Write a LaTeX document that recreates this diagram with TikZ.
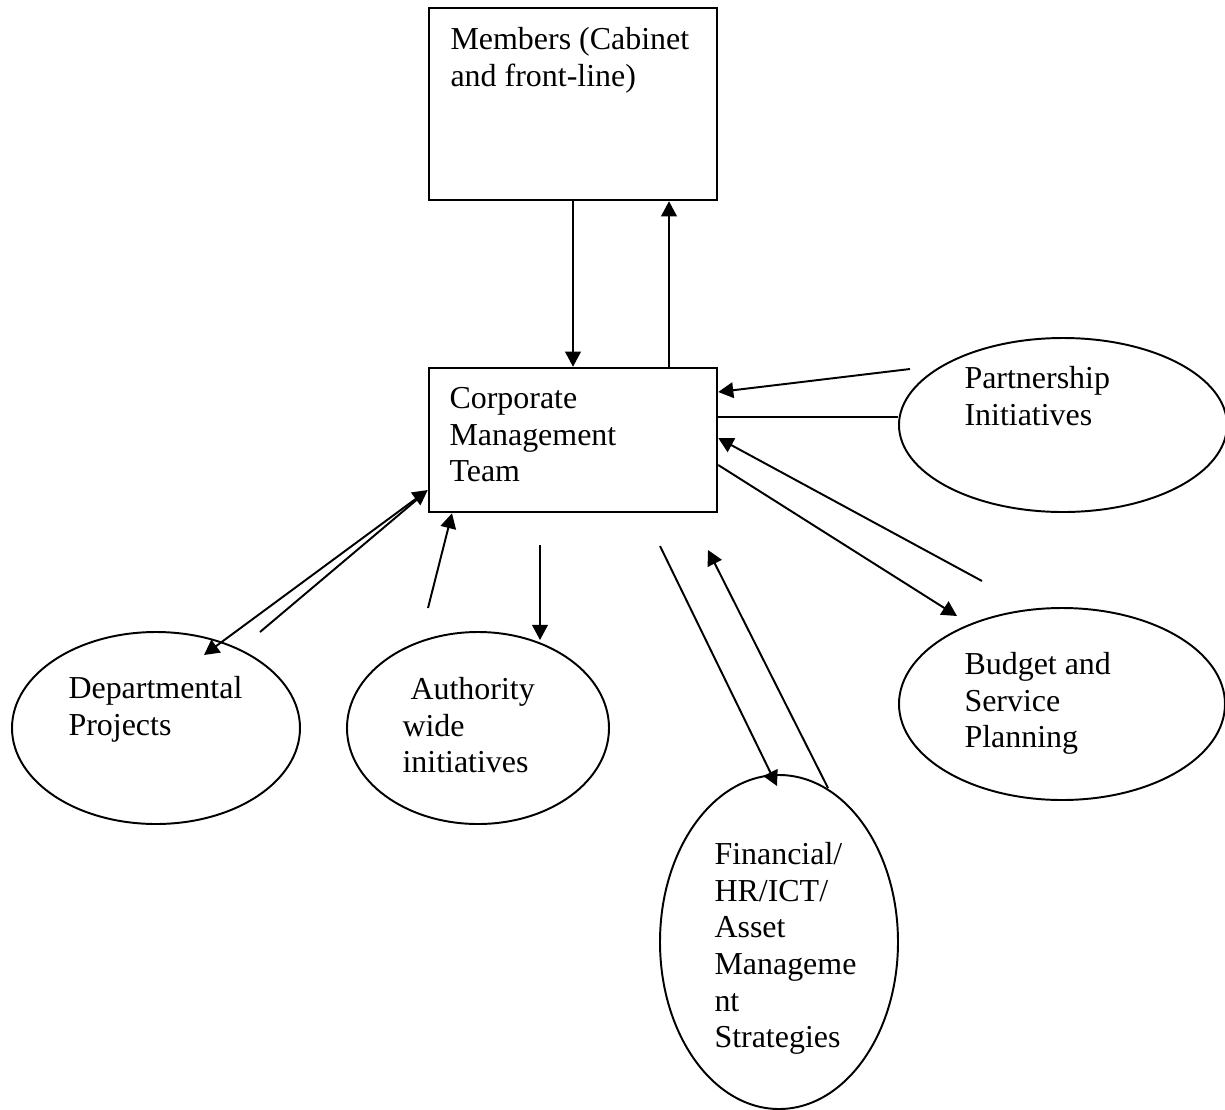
\documentclass[tikz,border=0pt]{standalone}
\usepackage{fontspec}
\setmainfont{Liberation Serif}
\usetikzlibrary{arrows.meta, shapes.geometric}
\newcommand{\pxu}{0.385pt}
\tikzset{
  box/.style={draw, line width=0.95pt, inner sep=0pt},
  blob/.style={draw, ellipse, line width=0.75pt, inner sep=0pt},
  txt/.style={anchor=north west, align=left, inner sep=0pt, font=\fontsize{12.3}{14.1}\selectfont},
  edge/.style={-{Triangle[length=5.8pt, width=6pt]}, line width=0.75pt},
  edgee/.style={{Triangle[length=5.8pt, width=6pt]}-{Triangle[length=5.8pt, width=6pt]}, line width=0.75pt},
  plain/.style={line width=0.75pt}
}
\begin{document}
\begin{tikzpicture}[x=\pxu, y=-\pxu]
  \useasboundingbox (0,0) rectangle (1225,1110);

  % boxes
  \node[box, minimum width=288*\pxu, minimum height=192*\pxu] (mem) at (573,104) {};
  \node[box, minimum width=288*\pxu, minimum height=144*\pxu] (cmt) at (573,440) {};

  % ellipses
  \node[blob, minimum width=328*\pxu, minimum height=174*\pxu] (part) at (1063,425) {};
  \node[blob, minimum width=326*\pxu, minimum height=192*\pxu] (bud) at (1062,704) {};
  \node[blob, minimum width=288*\pxu, minimum height=192*\pxu] (dep) at (156,728) {};
  \node[blob, minimum width=262*\pxu, minimum height=192*\pxu] (auth) at (478,728) {};
  \node[blob, minimum width=238*\pxu, minimum height=334*\pxu] (fin) at (779,942) {};

  % texts
  \node[txt] (memtxt) at (450,27) {Members (Cabinet\\and front-line)};
  \node[txt] (cmttxt) at (449,387) {Corporate\\Management\\Team};
  \node[txt] (parttxt) at (964,366) {Partnership\\Initiatives};
  \node[txt] (budtxt) at (964,652) {Budget and\\Service\\Planning};
  \node[txt] (deptxt) at (68,676) {Departmental\\Projects};
  \node[txt] (authtxt) at (402,677) {~Authority\\wide\\initiatives};
  \node[txt] (fintxt) at (714,842) {Financial/\\HR/ICT/\\Asset\\Manageme\\nt\\Strategies};

  % free ends
  \coordinate (pa) at (910,369);
  \coordinate (ba) at (982,581);
  \coordinate (btip) at (957,616);
  \coordinate (dtip) at (204,655);
  \coordinate (dl) at (260,632);
  \coordinate (dm) at (420,497);
  \coordinate (au) at (428,608);
  \coordinate (ad) at (540,545);
  \coordinate (atip) at (540,640);
  \coordinate (fd) at (660,546);
  \coordinate (ftip) at (777,786);
  \coordinate (fu) at (828,788);
  \coordinate (fup) at (708,550);

  \draw[edge] (mem.south -| 573,0) -- (cmt.north -| 573,0);
  \draw[edge] (cmt.north -| 669,0) -- (mem.south -| 669,0);
  \draw[edge] (pa) -- (cmt.east |- 0,392);
  \draw[plain] (cmt.east |- 0,417) -- (part.west |- 0,417);
  \draw[edge] (ba) -- (cmt.east |- 0,438);
  \draw[edge] (cmt.east |- 0,465) -- (btip);
  \draw[edgee] (dtip) -- (cmt.west |- 0,490);
  \draw[plain] (dl) -- (dm);
  \draw[edge] (au) -- (cmt.south -| 452,0);
  \draw[edge] (ad) -- (atip);
  \draw[edge] (fd) -- (ftip);
  \draw[edge] (fu) -- (fup);
\end{tikzpicture}
\end{document}
